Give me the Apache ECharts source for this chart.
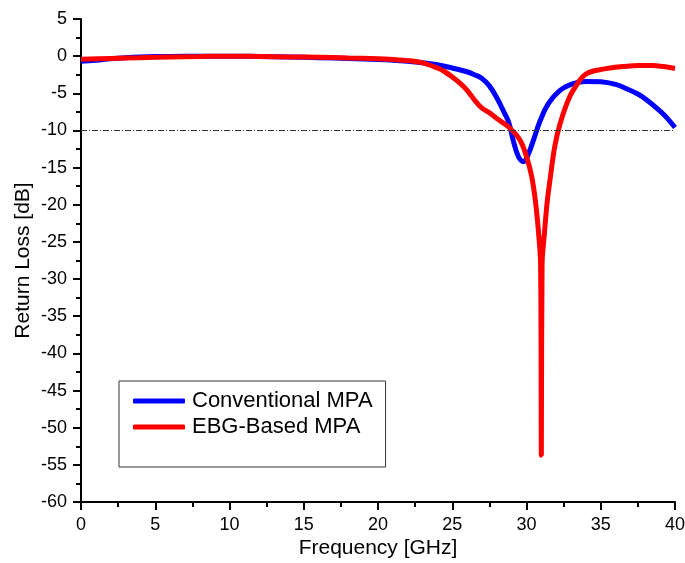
<!DOCTYPE html>
<html>
<head>
<meta charset="utf-8">
<script src="https://cdn.jsdelivr.net/npm/echarts@6/dist/echarts.min.js"></script>
<style>html,body{margin:0;padding:0;background:#fff;}#c{width:685px;height:563px;}</style>
</head>
<body>
<div id="c"></div>
<script>
const seriesNames = ['Conventional MPA', 'EBG-Based MPA'];
const xTicks = [0, 5, 10, 15, 20, 25, 30, 35, 40];
const yTicks = [5, 0, -5, -10, -15, -20, -25, -30, -35, -40, -45, -50, -55, -60];
const threshold = -10;

const convFreq = [0, 1, 2, 3, 4, 5, 7, 10, 12, 14, 16, 18, 20, 21, 22, 23, 24, 25, 26, 26.5, 27, 27.5, 28, 28.5, 28.8, 29.1, 29.45, 29.8, 30.1, 30.47, 30.9, 31.47, 32.26, 33.15, 34, 35, 36, 36.7, 37.5, 38.1, 39, 39.5, 40];
const convRL = [-0.7, -0.55, -0.35, -0.2, -0.1, -0.05, 0, 0, -0.05, -0.1, -0.2, -0.3, -0.45, -0.55, -0.7, -0.9, -1.15, -1.6, -2.1, -2.5, -3.0, -4.0, -5.6, -7.6, -8.9, -11.3, -13.5, -14.2, -13.3, -11.3, -8.8, -6.4, -4.6, -3.7, -3.4, -3.45, -3.8, -4.35, -5.1, -5.9, -7.4, -8.4, -9.6];

const ebgFreq = [0, 2, 4, 6, 8, 10, 12, 14, 16, 18, 20, 21, 22, 23, 24, 24.5, 25, 25.5, 26, 26.5, 27, 27.5, 28, 28.9, 29.56, 30.0, 30.35, 30.6, 30.8, 30.95, 31.0, 31.05, 31.2, 31.4, 31.58, 31.9, 32.26, 32.9, 33.6, 34.0, 34.5, 35, 35.5, 36.5, 37.5, 38.5, 39.2, 40];
const ebgRL = [-0.4, -0.3, -0.2, -0.1, -0.05, 0, -0.05, -0.1, -0.15, -0.25, -0.35, -0.45, -0.6, -0.9, -1.6, -2.1, -2.8, -3.6, -4.6, -5.9, -7.0, -7.6, -8.4, -9.7, -11.3, -13.5, -16.2, -19.5, -23.5, -28, -53.7, -28, -24, -19.5, -16.7, -12.2, -9.1, -5.5, -3.2, -2.4, -2.0, -1.8, -1.62, -1.4, -1.25, -1.25, -1.4, -1.65];

const zip = (a, b) => a.map((v, i) => [v, b[i]]);
const font = 'Liberation Sans, Arial, sans-serif';

const chart = echarts.init(document.getElementById('c'), null, {renderer: 'canvas'});
chart.setOption({
  animation: false,
  backgroundColor: '#fff',
  grid: {left: 81, right: 10, top: 19, bottom: 61, containLabel: false, outerBoundsMode: 'none'},
  legend: {
    orient: 'vertical', left: 119, top: 381,
    padding: [9, 13, 29, 14],
    borderColor: '#333', borderWidth: 1,
    itemWidth: 52, itemHeight: 5, itemGap: 4,
    icon: 'roundRect',
    textStyle: {fontFamily: font, fontSize: 22, color: '#000', padding: [0, 0, 0, 2]},
    data: seriesNames
  },
  xAxis: {
    type: 'value', min: xTicks[0], max: xTicks[xTicks.length - 1], interval: 5,
    name: 'Frequency [GHz]', nameLocation: 'middle', nameGap: 36, nameMoveOverlap: false,
    nameTextStyle: {fontFamily: font, fontSize: 21, color: '#000'},
    axisLine: {show: true, onZero: false, lineStyle: {color: '#000', width: 2}},
    axisTick: {show: true, inside: false, length: 8, lineStyle: {color: '#000', width: 2}},
    minorTick: {show: true, splitNumber: 2, length: 5, lineStyle: {color: '#000', width: 2}},
    axisLabel: {fontFamily: font, fontSize: 18, color: '#000', margin: 14},
    splitLine: {show: false}
  },
  yAxis: {
    type: 'value', min: yTicks[yTicks.length - 1], max: yTicks[0], interval: 5,
    name: 'Return Loss [dB]', nameLocation: 'middle', nameGap: 47, nameMoveOverlap: false,
    nameTextStyle: {fontFamily: font, fontSize: 21, color: '#000'},
    axisLine: {show: true, onZero: false, lineStyle: {color: '#000', width: 2}},
    axisTick: {show: true, inside: false, length: 8, lineStyle: {color: '#000', width: 2}},
    minorTick: {show: true, splitNumber: 2, length: 5, lineStyle: {color: '#000', width: 2}},
    axisLabel: {fontFamily: font, fontSize: 18, color: '#000', margin: 14},
    splitLine: {show: false}
  },
  series: [
    {
      name: seriesNames[0], type: 'line', data: zip(convFreq, convRL),
      showSymbol: false, smooth: 0.4,
      lineStyle: {color: '#0000ff', width: 5}, itemStyle: {color: '#0000ff'},
      markLine: {
        silent: true, symbol: 'none', label: {show: false},
        lineStyle: {color: '#333', width: 1, type: [6, 2, 1, 2]},
        data: [{yAxis: threshold}]
      },
      z: 2
    },
    {
      name: seriesNames[1], type: 'line', data: zip(ebgFreq, ebgRL),
      showSymbol: false, smooth: 0.35,
      lineStyle: {color: '#ff0000', width: 5}, itemStyle: {color: '#ff0000'},
      z: 3
    }
  ]
});
</script>
</body>
</html>
